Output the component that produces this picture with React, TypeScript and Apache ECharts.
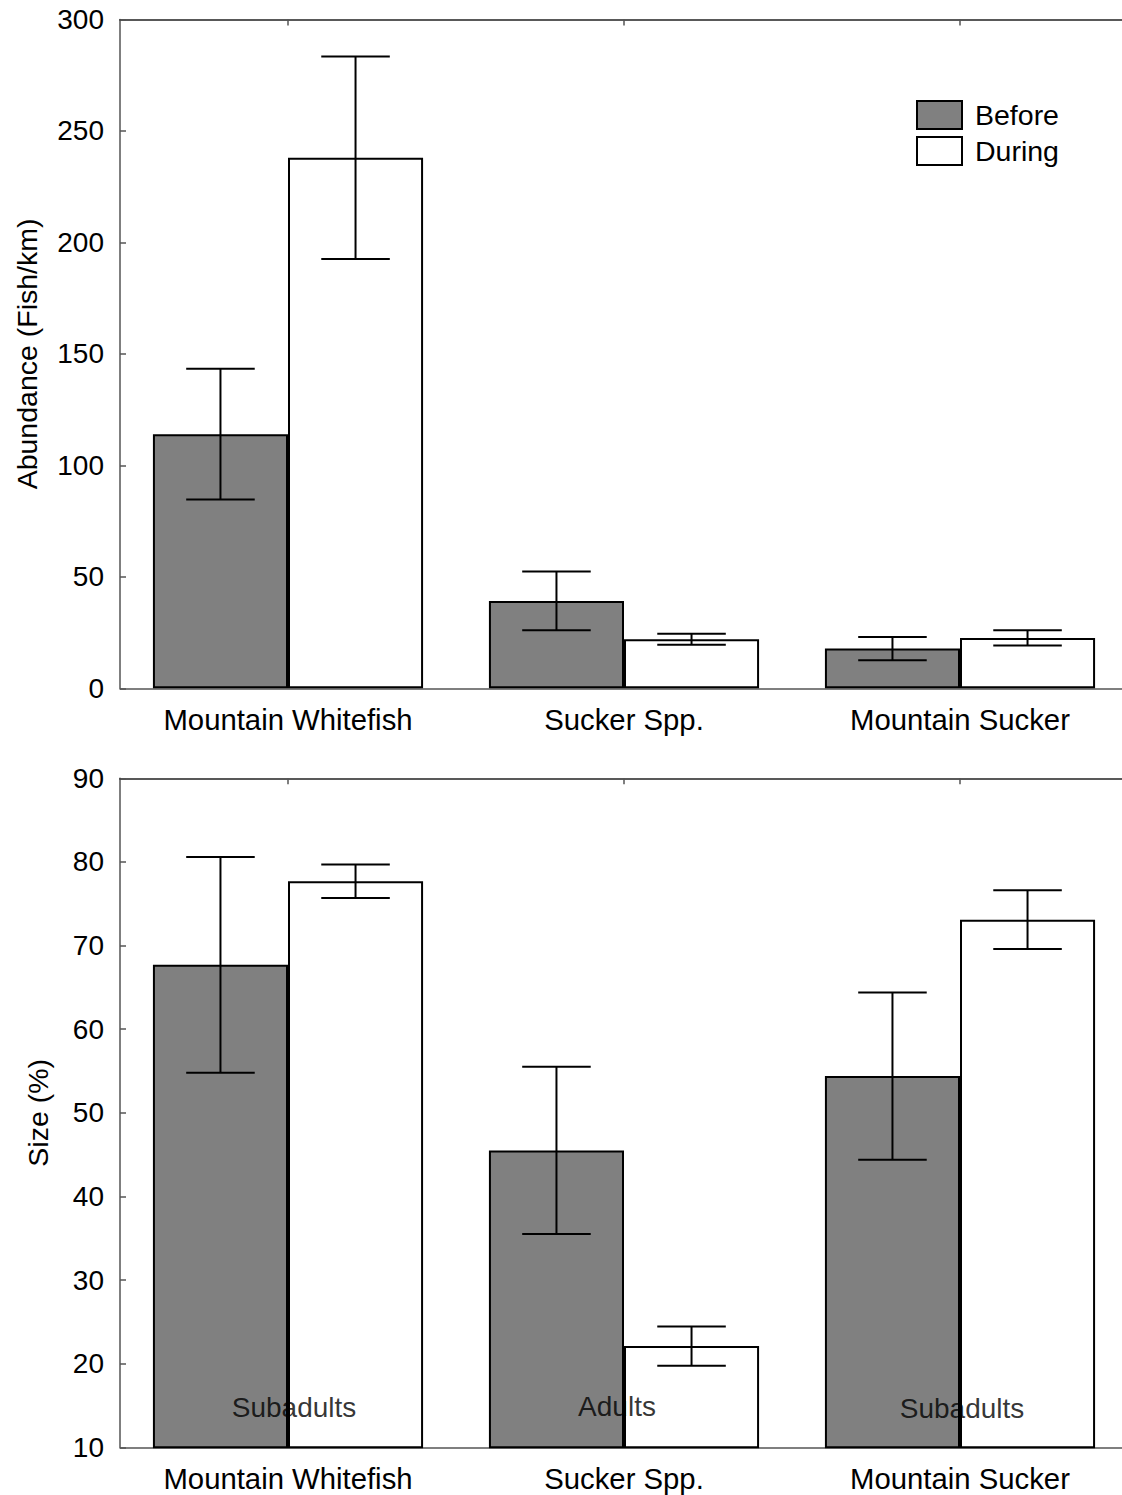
import React, { useEffect, useRef } from "react";
import * as echarts from "echarts";

const categories = ["Mountain Whitefish", "Sucker Spp.", "Mountain Sucker"];
const seriesNames = ["Before", "During"];

// Top panel: abundance (fish/km)
const abundanceBefore = [114, 39.2, 17.8];
const abundanceBeforeErr = [29.3, 13.2, 5.2];
const abundanceDuring = [238, 22.0, 22.6];
const abundanceDuringErr = [45.4, 2.45, 3.45];
const abundanceTicks = { min: 0, max: 300, interval: 50 };

// Bottom panel: size (%)
const sizeBefore = [67.7, 45.5, 54.4];
const sizeBeforeErr = [12.9, 10.0, 10.0];
const sizeDuring = [77.7, 22.1, 73.1];
const sizeDuringErr = [2.0, 2.35, 3.5];
const sizeTicks = { min: 10, max: 90, interval: 10 };

const stageLabels = ["Subadults", "Adults", "Subadults"];
const stageLabelY = [14.8, 14.9, 14.6];
const stageLabelDx = [6, -7, 2];

const FONT = "'Liberation Sans', Arial, Helvetica, sans-serif";

function errData(before: number[], beforeErr: number[], during: number[], duringErr: number[]) {
  const out: number[][] = [];
  before.forEach((v, i) => out.push([i, v - beforeErr[i], v + beforeErr[i], 0]));
  during.forEach((v, i) => out.push([i, v - duringErr[i], v + duringErr[i], 1]));
  return out;
}

const renderErr = (params: any, api: any) => {
  const cat = api.value(0);
  const lo = api.value(1);
  const hi = api.value(2);
  const side = api.value(3);
  const band = api.size([1, 0])[0];
  const pLo = api.coord([cat, lo]);
  const pHi = api.coord([cat, hi]);
  const cx = pLo[0] + (side === 0 ? -1 : 1) * band * 0.201;
  const hw = band * 0.102;
  const style = { stroke: "#000", lineWidth: 2 };
  return {
    type: "group",
    children: [
      { type: "line", shape: { x1: cx, y1: pLo[1], x2: cx, y2: pHi[1] }, style },
      { type: "line", shape: { x1: cx - hw, y1: pHi[1], x2: cx + hw, y2: pHi[1] }, style },
      { type: "line", shape: { x1: cx - hw, y1: pLo[1], x2: cx + hw, y2: pLo[1] }, style },
    ],
  };
};

const beforeStyle = { color: "#808080", borderColor: "#000", borderWidth: 2 };
const duringStyle = { color: "#ffffff", borderColor: "#000", borderWidth: 2 };

function xAxes(gridIndex: number) {
  return [
    {
      type: "category",
      gridIndex,
      data: categories,
      position: "bottom",
      axisLine: { onZero: false, lineStyle: { color: "#555", width: 1.5 } },
      axisTick: { show: false },
      axisLabel: { fontSize: 29.3, color: "#000", margin: 17, fontFamily: FONT },
    },
    {
      type: "category",
      gridIndex,
      data: categories,
      position: "top",
      axisLine: { onZero: false, lineStyle: { color: "#222", width: 1.5 } },
      axisTick: { show: true, inside: true, length: 6, alignWithLabel: true, lineStyle: { color: "#555", width: 1.5 } },
      axisLabel: { show: false },
    },
  ];
}

function yAxis(gridIndex: number, ticks: any, name: string, nameGap: number) {
  return {
    type: "value",
    gridIndex,
    min: ticks.min,
    max: ticks.max,
    interval: ticks.interval,
    name,
    nameLocation: "middle",
    nameGap,
    nameTextStyle: { fontSize: 28.5, color: "#000", fontFamily: FONT },
    axisLine: { show: true, lineStyle: { color: "#555", width: 1.5 } },
    axisTick: { show: true, inside: true, length: 6, lineStyle: { color: "#555", width: 1.5 } },
    axisLabel: { fontSize: 28, color: "#000", margin: 16, fontFamily: FONT },
    splitLine: { show: false },
  };
}

export default function App() {
  const ref = useRef<HTMLDivElement>(null);
  useEffect(() => {
    if (!ref.current) return;
    const chart = echarts.init(ref.current, undefined, { renderer: "svg" });
    chart.setOption({
      animation: false,
      backgroundColor: "#fff",
      textStyle: { fontFamily: FONT },
      grid: [
        { left: 120, top: 19.5, width: 1008, height: 668.8, containLabel: false, outerBoundsMode: "none" },
        { left: 120, top: 778.3, width: 1008, height: 669, containLabel: false, outerBoundsMode: "none" },
      ],
      legend: {
        data: seriesNames,
        orient: "vertical",
        left: 916,
        top: 100,
        padding: 0,
        itemWidth: 45,
        itemHeight: 28,
        itemGap: 6,
        icon: "rect",
        textStyle: { fontSize: 28.5, color: "#000", fontFamily: FONT, padding: [0, 0, 0, 8] },
      },
      xAxis: [...xAxes(0), ...xAxes(1)],
      yAxis: [
        yAxis(0, abundanceTicks, "Abundance (Fish/km)", 79),
        yAxis(1, sizeTicks, "Size (%)", 68),
      ],
      series: [
        {
          name: seriesNames[0], type: "bar", xAxisIndex: 0, yAxisIndex: 0,
          data: abundanceBefore, barWidth: "40.2%", barGap: "0%", itemStyle: beforeStyle,
        },
        {
          name: seriesNames[1], type: "bar", xAxisIndex: 0, yAxisIndex: 0,
          data: abundanceDuring, barWidth: "40.2%", barGap: "0%", itemStyle: duringStyle,
        },
        {
          type: "custom", xAxisIndex: 0, yAxisIndex: 0, z: 5,
          data: errData(abundanceBefore, abundanceBeforeErr, abundanceDuring, abundanceDuringErr),
          renderItem: renderErr,
        },
        {
          name: seriesNames[0], type: "bar", xAxisIndex: 2, yAxisIndex: 1,
          data: sizeBefore, barWidth: "40.2%", barGap: "0%", itemStyle: beforeStyle,
        },
        {
          name: seriesNames[1], type: "bar", xAxisIndex: 2, yAxisIndex: 1,
          data: sizeDuring, barWidth: "40.2%", barGap: "0%", itemStyle: duringStyle,
        },
        {
          type: "custom", xAxisIndex: 2, yAxisIndex: 1, z: 5,
          data: errData(sizeBefore, sizeBeforeErr, sizeDuring, sizeDuringErr),
          renderItem: renderErr,
        },
        {
          type: "scatter", xAxisIndex: 2, yAxisIndex: 1, z: 6,
          symbolSize: 0,
          data: stageLabels.map((t, i) => ({
            value: [i, stageLabelY[i]],
            label: { formatter: t, offset: [stageLabelDx[i], 0] },
          })),
          label: { show: true, position: "inside", fontSize: 28, color: "#000", fontFamily: FONT },
          silent: true,
        },
      ],
    });
    return () => chart.dispose();
  }, []);
  return (
    <div
      ref={ref}
      style={{ position: "absolute", left: 0, top: 0, width: 1122, height: 1495, background: "#fff" }}
    />
  );
}
